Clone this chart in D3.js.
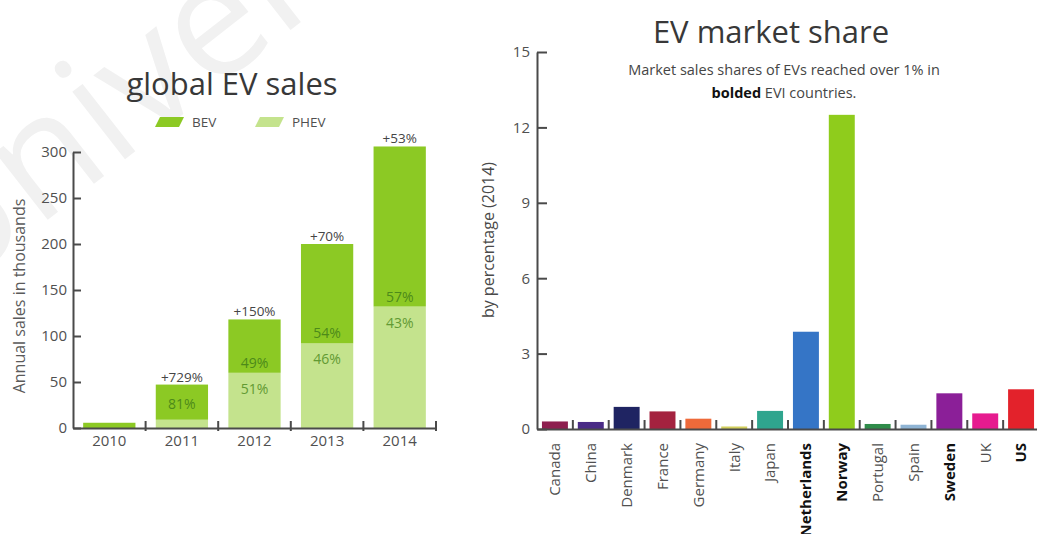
<!DOCTYPE html>
<html>
<head>
<meta charset="utf-8">
<script src="https://cdn.jsdelivr.net/npm/d3@7"></script>
<style>
  html, body { margin: 0; padding: 0; background: #fff; }
  svg { display: block; font-family: "Open Sans", sans-serif; }
</style>
</head>
<body>
<svg id="chart" width="1037" height="534"></svg>
<script>
// ---- global EV sales (thousands) ----
const years = ["2010", "2011", "2012", "2013", "2014"];
const bevSales = [5.7, 38.2, 58, 108, 174];
const phevSales = [0, 9, 60, 92, 132];
const growthLabels = ["", "+729%", "+150%", "+70%", "+53%"];
const bevShareLabels = ["", "81%", "49%", "54%", "57%"];
const phevShareLabels = ["", "", "51%", "46%", "43%"];
const salesTicks = [0, 50, 100, 150, 200, 250, 300];

// ---- EV market share by country, 2014 (%) ----
const countries = ["Canada", "China", "Denmark", "France", "Germany", "Italy", "Japan",
  "Netherlands", "Norway", "Portugal", "Spain", "Sweden", "UK", "US"];
const marketShares = [0.30, 0.28, 0.88, 0.70, 0.41, 0.10, 0.72, 3.87, 12.5, 0.20, 0.17, 1.42, 0.62, 1.58];
const countryColors = ["#8e1f4f", "#4a2b86", "#1f2462", "#a4223f", "#ee6a3a", "#d2cf5c", "#2fa58e",
  "#3575c6", "#8fcc1c", "#2f8c4a", "#8fb4d4", "#8b1f98", "#e61b8f", "#e3222b"];
const boldCountries = ["Netherlands", "Norway", "Sweden", "US"];
const shareTicks = [0, 3, 6, 9, 12, 15];

const BEV_COLOR = "#8cc924";
const PHEV_COLOR = "#c4e38d";
const AXIS_COLOR = "#4a4a4a";
const TEXT_COLOR = "#505050";

const svg = d3.select("#chart");

// faint watermark behind everything
svg.append("text")
  .attr("transform", "translate(-55,300) rotate(-38)")
  .attr("font-size", 160)
  .attr("fill", "#f1f1f1")
  .text("University");

// ================= left: stacked sales bars =================
const salesTable = years.map((y, i) => ({ year: y, BEV: bevSales[i], PHEV: phevSales[i] }));
const stack = d3.stack().keys(["PHEV", "BEV"]);
const series = stack(salesTable);

const xYear = d3.scaleBand().domain(years).range([73, 436])
  .paddingInner(0.28).paddingOuter(0.14);
const ySales = d3.scaleLinear().domain([0, 300]).range([428, 152]);

const left = svg.append("g");

left.append("text")
  .attr("x", 232).attr("y", 95)
  .attr("text-anchor", "middle")
  .attr("font-size", 31).attr("fill", "#383838")
  .text("global EV sales");

// legend with slanted swatches
const legendItems = [
  { name: "BEV", color: BEV_COLOR, x: 155 },
  { name: "PHEV", color: PHEV_COLOR, x: 255 }
];
const legend = left.selectAll("g.legend").data(legendItems).enter().append("g")
  .attr("class", "legend")
  .attr("transform", d => `translate(${d.x},117)`);
legend.append("path")
  .attr("d", "M0,10 L5,0 L29,0 L24,10 Z")
  .attr("fill", d => d.color);
legend.append("text")
  .attr("x", 37).attr("y", 10)
  .attr("font-size", 13.5).attr("fill", TEXT_COLOR)
  .text(d => d.name);

// bars
const layer = left.selectAll("g.layer").data(series).enter().append("g")
  .attr("class", "layer")
  .attr("fill", d => d.key === "BEV" ? BEV_COLOR : PHEV_COLOR);
layer.selectAll("rect").data(d => d).enter().append("rect")
  .attr("x", d => xYear(d.data.year))
  .attr("width", xYear.bandwidth())
  .attr("y", d => ySales(d[1]))
  .attr("height", d => ySales(d[0]) - ySales(d[1]));

// labels on bars
years.forEach((yr, i) => {
  const cx = xYear(yr) + xYear.bandwidth() / 2;
  const total = bevSales[i] + phevSales[i];
  const yTop = ySales(total);
  const ySplit = ySales(phevSales[i]);
  if (growthLabels[i]) {
    left.append("text").attr("x", cx).attr("y", yTop - 3)
      .attr("text-anchor", "middle").attr("font-size", 13.5).attr("fill", "#454545")
      .text(growthLabels[i]);
  }
  if (bevShareLabels[i]) {
    const segH = ySplit - yTop;
    const yb = segH < 45 ? (yTop + ySplit) / 2 + 7 : ySplit - 5;
    left.append("text").attr("x", cx).attr("y", yb)
      .attr("text-anchor", "middle").attr("font-size", 14).attr("fill", "#4d8a1a")
      .text(bevShareLabels[i]);
  }
  if (phevShareLabels[i]) {
    left.append("text").attr("x", cx).attr("y", ySplit + 21)
      .attr("text-anchor", "middle").attr("font-size", 14).attr("fill", "#629a33")
      .text(phevShareLabels[i]);
  }
});

// y axis (ticks pointing inward)
const ySalesAxis = left.append("g").attr("transform", "translate(73,0)")
  .call(d3.axisLeft(ySales).tickValues(salesTicks).tickSizeInner(-8).tickSizeOuter(0).tickPadding(6));
ySalesAxis.select(".domain").attr("stroke", AXIS_COLOR).attr("stroke-width", 2);
ySalesAxis.selectAll(".tick line").attr("stroke", AXIS_COLOR).attr("stroke-width", 2);
ySalesAxis.selectAll(".tick text").attr("font-size", 15).attr("fill", TEXT_COLOR)
  .attr("font-family", "Open Sans, sans-serif");

left.append("text")
  .attr("transform", `translate(25,${(ySales(0) + ySales(300)) / 2 + 6}) rotate(-90)`)
  .attr("text-anchor", "middle").attr("font-size", 16).attr("fill", "#5a5a5a")
  .text("Annual sales in thousands");

// x axis: baseline, separator ticks between categories, year labels
const xYearAxis = left.append("g").attr("transform", `translate(0,${ySales(0)})`)
  .call(d3.axisBottom(xYear).tickSize(0).tickPadding(7));
xYearAxis.select(".domain").attr("stroke", AXIS_COLOR).attr("stroke-width", 2);
xYearAxis.selectAll(".tick text").attr("font-size", 15).attr("fill", TEXT_COLOR)
  .attr("font-family", "Open Sans, sans-serif");
const yearStep = xYear.step();
xYearAxis.selectAll("line.sep").data(years).enter().append("line")
  .attr("class", "sep")
  .attr("x1", d => xYear(d) - xYear.paddingOuter() * yearStep + yearStep)
  .attr("x2", d => xYear(d) - xYear.paddingOuter() * yearStep + yearStep)
  .attr("y1", -7).attr("y2", 3)
  .attr("stroke", AXIS_COLOR).attr("stroke-width", 2);

// ================= right: market share bars =================
const xCountry = d3.scaleBand().domain(countries).range([537, 1039])
  .paddingInner(0.276).paddingOuter(0.138);
const yShare = d3.scaleLinear().domain([0, 15]).range([429, 52]);

const right = svg.append("g");

right.append("text")
  .attr("x", 771).attr("y", 43)
  .attr("text-anchor", "middle").attr("font-size", 31).attr("fill", "#383838")
  .text("EV market share");

right.append("text")
  .attr("x", 784).attr("y", 75)
  .attr("text-anchor", "middle").attr("font-size", 14.5).attr("fill", "#454545")
  .text("Market sales shares of EVs reached over 1% in");
const sub2 = right.append("text")
  .attr("x", 784).attr("y", 98)
  .attr("text-anchor", "middle").attr("font-size", 14.5).attr("fill", "#454545");
sub2.append("tspan").attr("font-weight", 700).attr("fill", "#111").text("bolded");
sub2.append("tspan").text(" EVI countries.");

right.selectAll("rect.share").data(countries).enter().append("rect")
  .attr("class", "share")
  .attr("x", d => xCountry(d))
  .attr("width", xCountry.bandwidth())
  .attr("y", (d, i) => yShare(marketShares[i]))
  .attr("height", (d, i) => yShare(0) - yShare(marketShares[i]))
  .attr("fill", (d, i) => countryColors[i]);

const yShareAxis = right.append("g").attr("transform", "translate(537,0)")
  .call(d3.axisLeft(yShare).tickValues(shareTicks).tickSizeInner(-10).tickSizeOuter(0).tickPadding(7));
yShareAxis.select(".domain").attr("stroke", AXIS_COLOR).attr("stroke-width", 2);
yShareAxis.selectAll(".tick line").attr("stroke", AXIS_COLOR).attr("stroke-width", 2);
yShareAxis.selectAll(".tick text").attr("font-size", 15).attr("fill", TEXT_COLOR)
  .attr("font-family", "Open Sans, sans-serif");

right.append("text")
  .attr("transform", `translate(494,240) rotate(-90)`)
  .attr("text-anchor", "middle").attr("font-size", 16).attr("fill", "#4a4a4a")
  .text("by percentage (2014)");

const xCountryAxis = right.append("g").attr("transform", `translate(0,${yShare(0)})`)
  .call(d3.axisBottom(xCountry).tickSize(0).tickPadding(0));
xCountryAxis.select(".domain").attr("stroke", AXIS_COLOR).attr("stroke-width", 2);
xCountryAxis.selectAll(".tick text")
  .attr("font-family", "Open Sans, sans-serif")
  .attr("font-size", 15)
  .attr("text-anchor", "end")
  .attr("transform", "rotate(-90)")
  .attr("x", -14).attr("y", 0).attr("dy", "0.36em")
  .attr("font-weight", d => boldCountries.includes(d) ? 700 : 400)
  .attr("fill", d => boldCountries.includes(d) ? "#111" : TEXT_COLOR);
const cStep = xCountry.step();
xCountryAxis.selectAll("line.sep").data(countries).enter().append("line")
  .attr("class", "sep")
  .attr("x1", d => xCountry(d) - xCountry.paddingOuter() * cStep + cStep)
  .attr("x2", d => xCountry(d) - xCountry.paddingOuter() * cStep + cStep)
  .attr("y1", -9).attr("y2", 0)
  .attr("stroke", AXIS_COLOR).attr("stroke-width", 2);
</script>
</body>
</html>
